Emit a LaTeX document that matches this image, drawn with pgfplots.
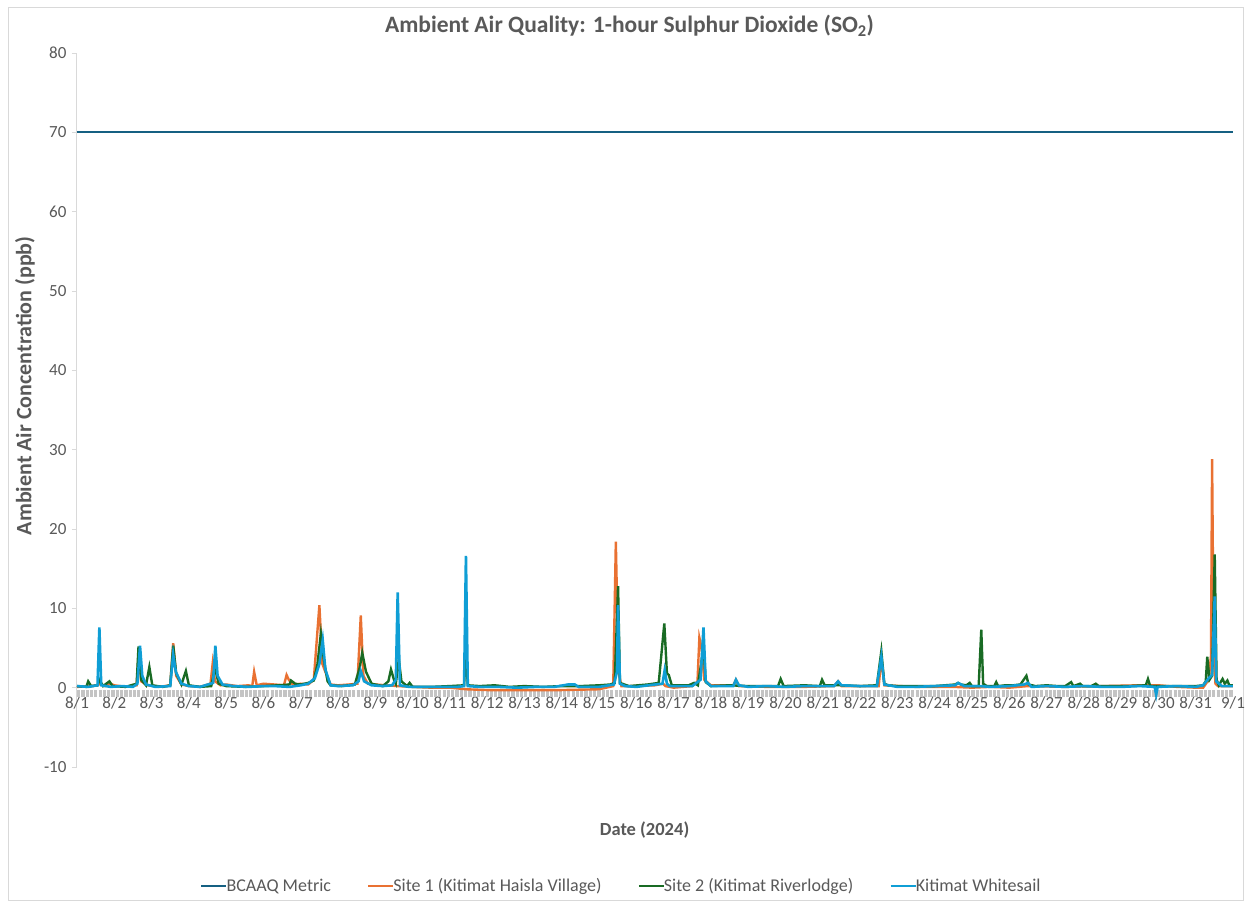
\documentclass[border=0pt]{standalone}
\usepackage{pgfplots}
\pgfplotsset{compat=1.18}
\usepackage{fontspec}
\setmainfont{Carlito}
\definecolor{bcaaq}{HTML}{156082}
\definecolor{siteone}{HTML}{E97132}
\definecolor{sitetwo}{HTML}{196B24}
\definecolor{whitesail}{HTML}{0F9ED5}
\definecolor{txt}{HTML}{595959}
\definecolor{axisgray}{HTML}{D9D9D9}
\definecolor{bandgray}{HTML}{C4C4C4}
\begin{document}
\begin{tikzpicture}
\useasboundingbox (-77pt,-138pt) rectangle (1172pt,767pt);
\draw[axisgray, line width=0.8pt] (-69pt,-133pt) rectangle (1166pt,760pt);
\begin{axis}[
  at={(0pt,0pt)}, anchor=south west,
  scale only axis, width=1156pt, height=714pt,
  xmin=0, xmax=31, ymin=-10, ymax=80,
  axis y line*=left, axis x line*=middle,
  hide obscured x ticks=false,
  x axis line style={draw=none},
  y axis line style={axisgray, line width=1pt},
  xtick={0,...,31},
  xticklabels={8/1,8/2,8/3,8/4,8/5,8/6,8/7,8/8,8/9,8/10,8/11,8/12,8/13,8/14,8/15,8/16,8/17,8/18,8/19,8/20,8/21,8/22,8/23,8/24,8/25,8/26,8/27,8/28,8/29,8/30,8/31,9/1},
  xtick style={draw=none},
  ytick={-10,0,...,80},
  ytick align=outside, major tick length=5pt,
  ytick style={axisgray, line width=1pt},
  /pgf/number format/assume math mode=true,
  tick label style={font=\fontsize{17}{20}\selectfont, text=txt},
  xticklabel style={yshift=-5pt},
  yticklabel style={xshift=-2pt},
  title={Ambient Air Quality: 1-hour Sulphur Dioxide (SO\textsubscript{2})},
  title style={font=\fontsize{23.5}{27}\selectfont\bfseries, text=txt, at={(axis description cs:0.478,1.0294)}, anchor=center},
  xlabel={Date (2024)},
  xlabel style={font=\fontsize{18.5}{22}\selectfont\bfseries, text=txt, at={(axis description cs:0.491,-0.0882)}, anchor=center},
  ylabel={Ambient Air Concentration (ppb)},
  ylabel style={font=\fontsize{22}{26}\selectfont\bfseries, text=txt, at={(axis description cs:-0.0450,0.534)}, anchor=center, rotate=0},
  legend columns=4,
  legend style={draw=none, fill=none, font=\fontsize{18}{22}\selectfont, text=txt,
    at={(axis description cs:0.471,-0.1667)}, anchor=center,
    /tikz/every even column/.append style={column sep=34pt},
    /tikz/every odd column/.append style={column sep=-3pt}},
  legend image code/.code={\draw[#1] (0pt,0pt) -- (25pt,0pt);},
  legend cell align=left,
]
% gray band along the zero line (axis tick marks)
\addplot[bandgray, line width=7pt, dash pattern=on 3.2pt off 1.1pt, forget plot] coordinates {(0,-0.75) (31,-0.75)};

\addplot[bcaaq, line width=2.2pt] coordinates {(0,70) (31,70)};
\addlegendentry{BCAAQ Metric}

\addplot[siteone, line width=2.4pt] coordinates {
(0,0.1) (0.4,0.2) (0.55,0.3) (0.62,0.5) (0.75,0.2) (0.9,0.5) (1.0,0.3) (1.3,0.1) (1.6,0.3) (1.66,4.8) (1.72,0.8) (1.9,0.3)
(2.2,0.1) (2.5,0.3) (2.58,5.6) (2.66,1.5) (2.8,0.4) (3.0,0.2) (3.3,0.1) (3.58,0.5) (3.64,3.1) (3.7,0.8) (3.85,0.3)
(4.0,0.4) (4.3,0.2) (4.6,0.3) (4.7,0.2) (4.75,2.0) (4.82,0.3) (5.0,0.5) (5.3,0.4) (5.55,0.3) (5.62,1.6) (5.68,1.0) (5.8,0.3)
(6.0,0.5) (6.2,0.4) (6.35,1.0) (6.50,10.4) (6.58,3.0) (6.66,2.0) (6.8,0.4) (7.0,0.3) (7.3,0.4) (7.52,0.5) (7.61,9.1)
(7.68,1.5) (7.8,0.5) (8.0,0.4) (8.3,0.3) (8.6,0.2) (9.0,0.1) (9.5,0.0) (10.0,0.0) (10.43,-0.2) (11.0,-0.3) (12.0,-0.3)
(13.0,-0.3) (14.0,-0.2) (14.38,0.2) (14.45,18.4) (14.52,2.0) (14.6,0.2) (15.0,0.2) (15.5,0.3) (15.72,0.5) (15.78,0.2)
(16.0,0.0) (16.5,0.2) (16.64,0.8) (16.69,6.3) (16.75,5.0) (16.82,1.0) (17.0,0.3) (17.6,0.3) (17.67,1.0) (17.75,0.2)
(18.5,0.1) (19.5,0.1) (20.3,0.2) (20.41,0.8) (20.5,0.2) (21.5,0.2) (21.57,3.8) (21.65,0.3) (22.5,0.1) (23.5,0.1)
(24.0,0.0) (24.5,0.1) (25.0,0.0) (25.5,0.2) (26.5,0.1) (27.5,0.2) (28.5,0.3) (29.0,0.3) (29.5,0.1) (30.0,0.0)
(30.2,0.0) (30.35,1.0) (30.41,4.0) (30.44,28.8) (30.48,5.0) (30.53,0.5) (30.6,0.2) (31.0,0.2)
};
\addlegendentry{Site 1 (Kitimat Haisla Village)}

\addplot[sitetwo, line width=2.4pt] coordinates {
(0,0.2) (0.25,0.1) (0.30,0.8) (0.38,0.2) (0.55,0.3) (0.6,1.0) (0.7,0.2) (0.87,0.8) (0.95,0.2) (1.3,0.1) (1.6,0.5)
(1.65,5.2) (1.72,1.0) (1.85,0.3) (1.94,2.6) (2.02,0.3) (2.3,0.1) (2.5,0.3) (2.58,5.3) (2.66,1.8) (2.8,0.4) (2.92,2.1)
(3.0,0.3) (3.3,0.1) (3.6,0.2) (3.7,2.5) (3.8,0.5) (4.0,0.2) (4.5,0.1) (5.0,0.2) (5.4,0.3) (5.7,0.4) (5.74,0.9)
(5.85,0.5) (6.0,0.4) (6.2,0.6) (6.35,0.9) (6.45,3.0) (6.54,6.8) (6.62,3.5) (6.72,0.8) (6.8,0.3) (7.1,0.2) (7.45,0.4)
(7.58,2.5) (7.65,4.4) (7.75,2.0) (7.9,0.5) (8.2,0.2) (8.35,0.8) (8.42,2.3) (8.5,1.0) (8.55,0.5) (8.63,3.6) (8.7,0.8)
(8.85,0.2) (8.92,0.6) (9.0,0.1) (9.5,0.1) (10.0,0.2) (10.38,0.3) (10.43,4.4) (10.48,0.3) (10.8,0.2) (11.2,0.3)
(11.6,0.1) (12.0,0.2) (12.5,0.1) (13.0,0.2) (13.5,0.2) (14.0,0.3) (14.3,0.4) (14.42,0.6) (14.51,12.8) (14.56,0.6)
(14.8,0.2) (15.3,0.4) (15.6,0.6) (15.75,8.1) (15.82,1.8) (15.87,1.6) (15.95,0.3) (16.4,0.3) (16.55,0.6) (16.65,0.3)
(16.77,4.0) (16.80,5.5) (16.86,0.7) (17.0,0.2) (17.5,0.3) (18.0,0.2) (18.5,0.2) (18.8,0.2) (18.87,1.1) (18.95,0.2) (19.5,0.3)
(19.92,0.2) (19.98,1.0) (20.05,0.3) (20.5,0.3) (21.0,0.2) (21.45,0.3) (21.57,4.6) (21.65,0.5) (21.75,0.3) (22.0,0.2) (22.5,0.2)
(23.0,0.2) (23.55,0.4) (23.63,0.6) (23.7,0.4) (23.85,0.3) (23.94,0.6) (24.0,0.2) (24.18,0.2) (24.25,7.3) (24.3,0.5)
(24.4,0.2) (24.6,0.2) (24.65,0.7) (24.7,0.2) (24.9,0.3) (25.1,0.3) (25.3,0.4) (25.46,1.5) (25.52,0.4) (25.7,0.2)
(26.0,0.3) (26.3,0.2) (26.5,0.2) (26.66,0.7) (26.72,0.2) (26.9,0.5) (26.97,0.2) (27.2,0.2) (27.32,0.5) (27.4,0.2)
(27.8,0.2) (28.2,0.2) (28.66,0.3) (28.72,1.1) (28.78,0.2) (29.0,0.2) (29.5,0.2) (30.0,0.2) (30.2,0.3) (30.27,0.8)
(30.31,3.9) (30.37,1.0) (30.44,1.5) (30.51,16.8) (30.56,1.0) (30.62,0.3) (30.72,1.1) (30.78,0.5) (30.85,0.9) (30.9,0.3) (31.0,0.3)
};
\addlegendentry{Site 2 (Kitimat Riverlodge)}

\addplot[whitesail, line width=2.6pt] coordinates {
(0,0.2) (0.3,0.1) (0.55,0.3) (0.60,7.6) (0.65,0.3) (0.9,0.1) (1.2,0.2) (1.5,0.1) (1.62,0.5) (1.69,5.3) (1.75,1.5)
(1.85,0.4) (2.1,0.1) (2.5,0.2) (2.58,4.2) (2.65,2.0) (2.8,0.5) (3.0,0.2) (3.3,0.1) (3.65,0.6) (3.71,5.3) (3.77,1.5)
(3.9,0.4) (4.2,0.2) (4.6,0.1) (5.0,0.2) (5.3,0.2) (5.7,0.1) (6.0,0.3) (6.2,0.5) (6.38,1.2) (6.5,3.0) (6.59,6.0)
(6.66,2.3) (6.8,0.3) (7.0,0.2) (7.4,0.3) (7.55,0.8) (7.61,2.1) (7.7,0.8) (7.9,0.3) (8.2,0.2) (8.45,0.3) (8.55,1.0)
(8.60,12.0) (8.66,0.3) (8.9,0.1) (9.3,0.1) (9.8,0.1) (10.2,0.1) (10.38,0.2) (10.43,16.6) (10.48,0.2) (10.8,0.1)
(11.3,0.1) (11.8,0.0) (12.3,0.1) (12.8,0.1) (13.17,0.4) (13.35,0.4) (13.45,0.1) (14.0,0.1) (14.40,0.4) (14.48,2.0)
(14.51,10.4) (14.56,0.5) (14.7,0.2) (15.0,0.1) (15.5,0.4) (15.7,0.5) (15.76,2.2) (15.82,0.5) (15.9,0.2) (16.5,0.2)
(16.72,1.0) (16.77,5.0) (16.80,7.6) (16.86,0.8) (17.0,0.2) (17.6,0.2) (17.67,1.0) (17.75,0.3) (18.0,0.1) (18.5,0.2)
(19.0,0.1) (19.5,0.2) (20.3,0.2) (20.41,0.8) (20.5,0.3) (21.0,0.2) (21.45,0.2) (21.57,3.9) (21.65,0.4) (22.0,0.1)
(22.5,0.1) (23.0,0.2) (23.55,0.3) (23.63,0.6) (23.8,0.2) (24.2,0.2) (24.5,0.1) (25.0,0.2) (25.4,0.4) (25.5,0.6)
(25.6,0.1) (26.0,0.2) (26.5,0.1) (27.0,0.2) (27.5,0.1) (28.0,0.1) (28.5,0.2) (28.9,0.1) (28.94,-0.9) (28.98,0.1) (29.5,0.2)
(30.0,0.1) (30.2,0.3) (30.35,1.2) (30.44,1.6) (30.51,11.5) (30.55,0.8) (30.7,0.2) (31.0,0.2)
};
\addlegendentry{Kitimat Whitesail}
\end{axis}
\end{tikzpicture}
\end{document}
